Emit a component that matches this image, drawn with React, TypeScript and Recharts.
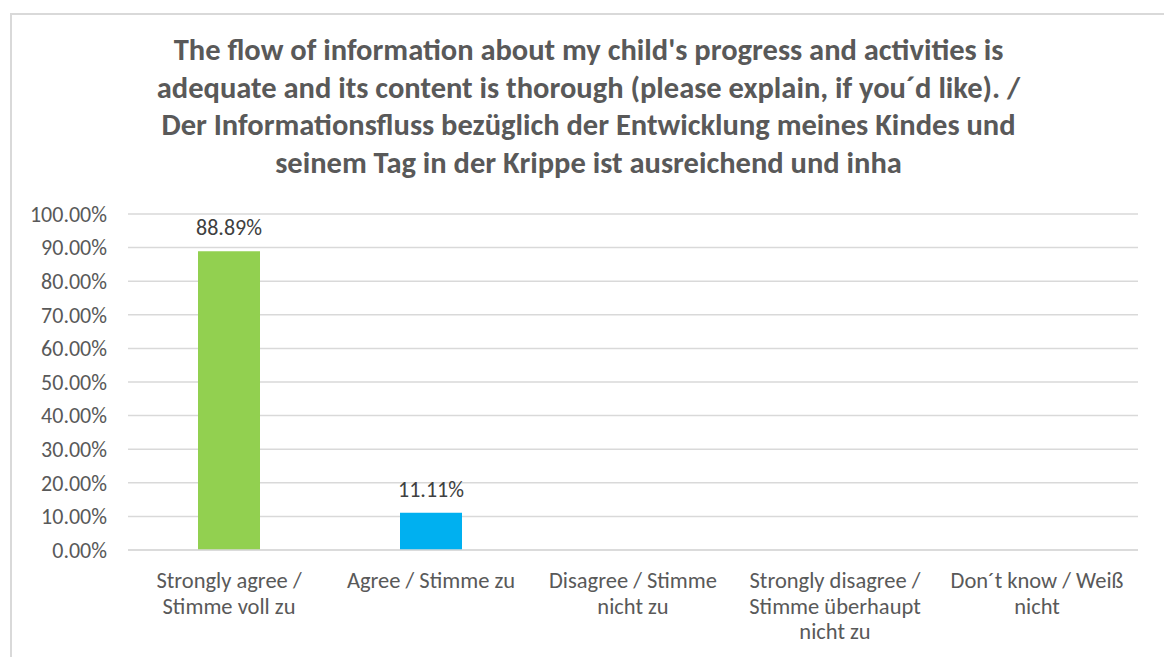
import { Bar, BarChart, CartesianGrid, Cell, LabelList, XAxis, YAxis } from "recharts";

const titleLines = [
  "The flow of information about my child's progress and activities is",
  "adequate and its content is thorough (please explain, if you´d like). /",
  "Der Informationsfluss bezüglich der Entwicklung meines Kindes und",
  "seinem Tag in der Krippe ist ausreichend und inha",
];

const categories = [
  "Strongly agree / Stimme voll zu",
  "Agree / Stimme zu",
  "Disagree / Stimme nicht zu",
  "Strongly disagree / Stimme überhaupt nicht zu",
  "Don´t know / Weiß nicht",
];

const categoryLines = [
  ["Strongly agree /", "Stimme voll zu"],
  ["Agree / Stimme zu"],
  ["Disagree / Stimme", "nicht zu"],
  ["Strongly disagree /", "Stimme überhaupt", "nicht zu"],
  ["Don´t know / Weiß", "nicht"],
];

const shares = [0.8889, 0.1111, 0, 0, 0];
const barColors = ["#92D050", "#00B0F0", "#92D050", "#92D050", "#92D050"];
const yTicks = [0, 0.1, 0.2, 0.3, 0.4, 0.5, 0.6, 0.7, 0.8, 0.9, 1];

const data = categories.map((name, i) => ({ name, value: shares[i], idx: i }));

const FONT = "Carlito, 'Liberation Sans Narrow', 'Open Sans', sans-serif";
const GREY = "#595959";

const pct = (v: number) => `${(v * 100).toFixed(2)}%`;

function CategoryTick(props: any) {
  const { x, y, index } = props;
  const lines = categoryLines[index] ?? [];
  return (
    <g transform={`translate(${x},${y})`}>
      {lines.map((line, i) => (
        <text
          key={i}
          x={0}
          y={i * 25.5 + 30}
          textAnchor="middle"
          fill={GREY}
          fontSize={22.5}
          fontFamily={FONT}
        >
          {line}
        </text>
      ))}
    </g>
  );
}

export default function App() {
  return (
    <div
      style={{
        position: "absolute",
        left: 0,
        top: 0,
        width: 1164,
        height: 657,
        background: "#fff",
        overflow: "hidden",
      }}
    >
      <div
        style={{
          position: "absolute",
          left: 10,
          top: 13,
          width: 1170,
          height: 660,
          border: "2px solid #d9d9d9",
        }}
      />
      <div
        style={{
          position: "absolute",
          left: 0,
          top: 31,
          width: 1177,
          textAlign: "center",
          fontFamily: FONT,
          fontWeight: "bold",
          fontSize: 30.5,
          lineHeight: "37.7px",
          color: GREY,
          whiteSpace: "nowrap",
        }}
      >
        {titleLines.map((t, i) => (
          <div key={i}>{t}</div>
        ))}
      </div>
      <div style={{ position: "absolute", left: 0, top: 0 }}>
        <BarChart
          width={1164}
          height={657}
          data={data}
          margin={{ top: 214, right: 26, bottom: 7, left: 10 }}
        >
          <CartesianGrid vertical={false} stroke="#d9d9d9" strokeWidth={1.5} />
          <XAxis
            dataKey="name"
            axisLine={{ stroke: "#d9d9d9", strokeWidth: 1.5 }}
            tickLine={false}
            interval={0}
            height={100}
            tick={<CategoryTick />}
          />
          <YAxis
            domain={[0, 1]}
            ticks={yTicks}
            width={118}
            axisLine={false}
            tickLine={false}
            tickSize={0}
            tickMargin={21}
            tickFormatter={pct}
            tick={{ fill: GREY, fontSize: 22, fontFamily: FONT }}
          />
          <Bar dataKey="value" barSize={62} isAnimationActive={false}>
            {data.map((d) => (
              <Cell key={d.idx} fill={barColors[d.idx]} />
            ))}
            <LabelList
              dataKey="value"
              position="top"
              offset={16}
              formatter={(v: any) => (Number(v) > 0 ? pct(Number(v)) : "")}
              fill="#404040"
              fontSize={22}
              fontFamily={FONT}
            />
          </Bar>
        </BarChart>
      </div>
    </div>
  );
}
